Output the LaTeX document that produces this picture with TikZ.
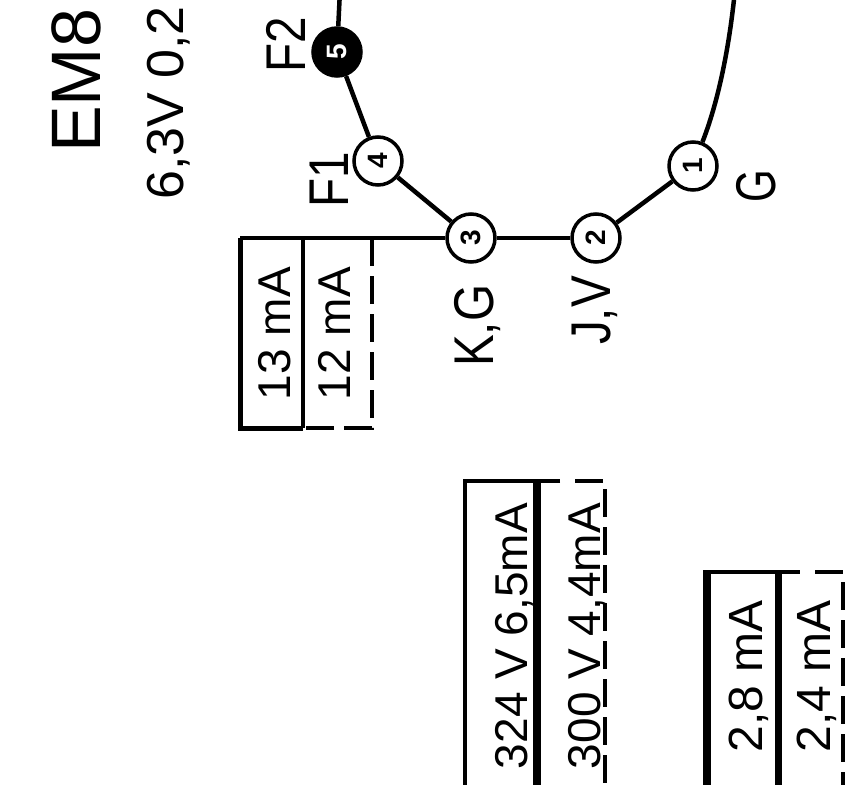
\documentclass[tikz,border=0pt]{standalone}
\usepackage{fontspec}
\usepackage{graphicx}
\setmainfont{Liberation Sans}
\begin{document}
\begin{tikzpicture}[x=1pt,y=-1pt,
  pinc/.style={circle, draw, line width=3.5pt, minimum size=48pt, inner sep=0pt, fill=white,
    font=\fontsize{28}{28}\selectfont\bfseries, rotate=90},
  lbl/.style={rotate=90, anchor=base west, inner sep=0pt, font=\fontsize{56}{60}\selectfont},
  boxtxt/.style={rotate=90, anchor=base east, inner sep=0pt, font=\fontsize{46}{50}\selectfont},
  wire/.style={line width=4.5pt},
  thinline/.style={line width=3.5pt},
  dashline/.style={line width=3.5pt, dash pattern=on 28pt off 10pt},
]
\useasboundingbox (0,0) rectangle (858,784);
\clip (0,0) rectangle (858,784);

% title texts
\node[lbl, font=\fontsize{70}{74}\selectfont] (title) at (100,153) {EM8};
\node[lbl, font=\fontsize{52}{56}\selectfont] (heater) at (183,200) {6,3V 0,2};

% pins
\node[pinc, fill=black, text=white] (F2) at (337,52) {5};
\node[pinc] (F1) at (378,161) {4};
\node[pinc] (KG) at (471,238) {3};
\node[pinc] (JV) at (596,238) {2};
\node[pinc] (G)  at (693,166) {1};
\coordinate (topL) at (340,-10);
\coordinate (topR) at (735,-10);
\coordinate (b1) at (240,238);

% outline
\draw[wire] (topL) -- (F2);
\draw[wire] (F2) -- (F1);
\draw[wire] (F1) -- (KG);
\draw[wire] (KG) -- (JV);
\draw[wire] (JV) -- (G);
\draw[wire] (G) .. controls (715,110) and (728,60) .. (topR);
\draw[wire] (b1) -- (KG);

% pin labels
\node[lbl] (lF2) at (305,73) {\scalebox{0.85}[1]{F2}};
\node[lbl] (lF1) at (348,208) {\scalebox{0.85}[1]{F1}};
\node[lbl] (lKG) at (493,367) {\scalebox{0.85}[1]{K,G}};
\node[lbl] (lJV) at (610,345) {\scalebox{0.85}[1]{J,V}};
\node[lbl] (lG)  at (775,203) {\scalebox{0.75}[1]{G}};

% box 1
\draw[line width=5pt] (b1) -- (240,428) -- (303,428);
\draw[line width=4.5pt] (303,238) -- (303,428);
\draw[line width=4.5pt] (240,238) -- (372,238);
\draw[dashline] (372,238) -- (372,428) -- (303,428);
\node[boxtxt] (t1) at (290,267) {13 mA};
\node[boxtxt] (t2) at (350,267) {12 mA};

% box 2
\draw[thinline] (560,481) -- (465,481) -- (465,800);
\draw[line width=8pt] (537,481) -- (537,800);
\draw[dashline] (575,481) -- (605,481) -- (605,800);
\node[boxtxt] (t3) at (527,503) {324 V 6,5mA};
\node[boxtxt] (t4) at (600,503) {300 V 4,4mA};

% box 3
\draw[line width=8pt] (707,800) -- (707,572);
\draw[line width=4.5pt] (703,572) -- (800,572);
\draw[line width=7pt] (778,572) -- (778,800);
\draw[dashline] (815,572) -- (843,572) -- (843,800);
\node[boxtxt, font=\fontsize{48}{52}\selectfont] (t5) at (762,600) {2,8 mA};
\node[boxtxt, font=\fontsize{48}{52}\selectfont] (t6) at (830,600) {2,4 mA};
\end{tikzpicture}
\end{document}
